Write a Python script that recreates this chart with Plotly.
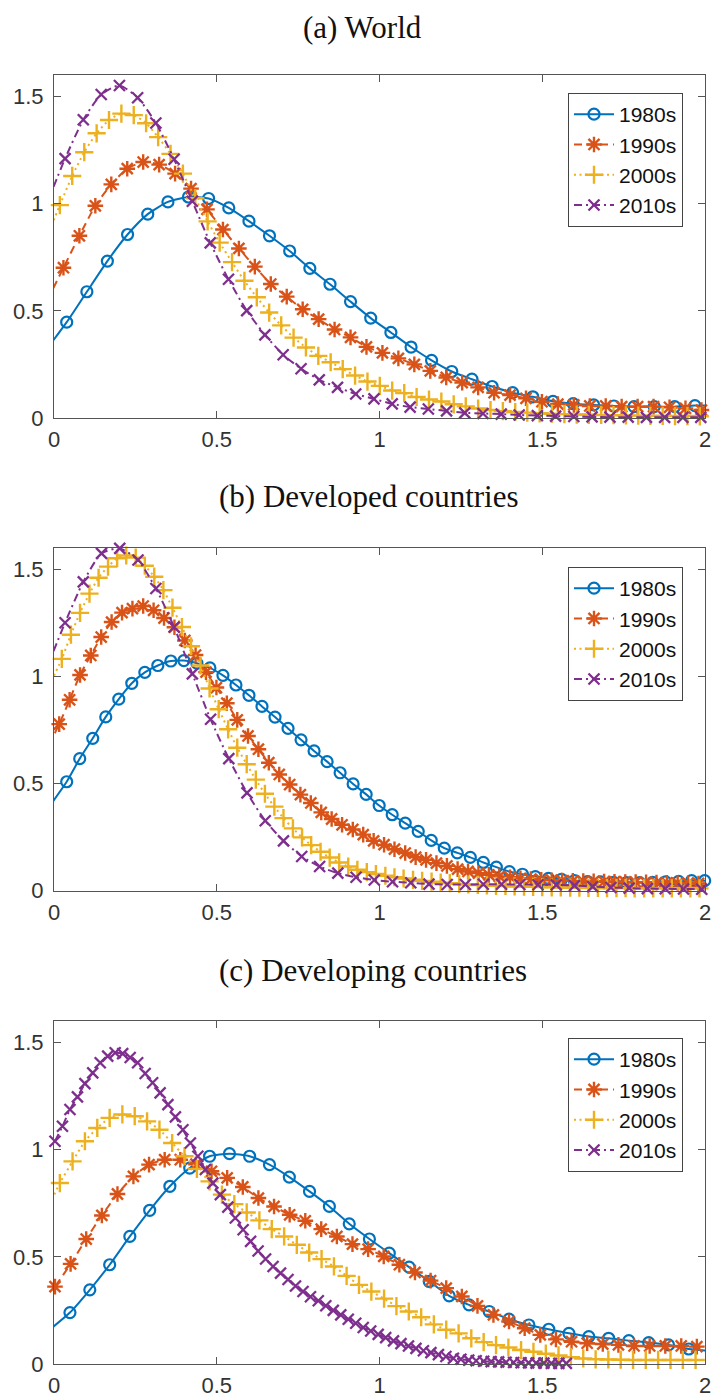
import plotly.graph_objects as go

# ---------------- data ----------------
series_names = ["1980s", "1990s", "2000s", "2010s"]
panel_titles = ["(a) World", "(b) Developed countries", "(c) Developing countries"]
x_ticks = [0, 0.5, 1, 1.5, 2]
x_tick_text = ["0", "0.5", "1", "1.5", "2"]
y_ticks = [0, 0.5, 1, 1.5]
y_tick_text = ["0", "0.5", "1", "1.5"]

# (a) World
world_1980s_x = [-0.023, 0.039, 0.101, 0.164, 0.226, 0.288, 0.350, 0.413, 0.475, 0.537, 0.599, 0.662, 0.724, 0.786, 0.848, 0.911, 0.973, 1.035, 1.097, 1.160, 1.222, 1.284, 1.346, 1.409, 1.471, 1.533, 1.595, 1.658, 1.720, 1.782, 1.844, 1.907, 1.969, 2.031]
world_1980s_y = [0.32, 0.447, 0.589, 0.732, 0.856, 0.951, 1.008, 1.031, 1.024, 0.980, 0.918, 0.850, 0.779, 0.698, 0.624, 0.543, 0.466, 0.399, 0.331, 0.269, 0.217, 0.181, 0.147, 0.118, 0.099, 0.078, 0.067, 0.061, 0.056, 0.053, 0.053, 0.053, 0.058, 0.058]
world_1990s_x = [-0.020, 0.029, 0.078, 0.127, 0.176, 0.225, 0.274, 0.323, 0.372, 0.421, 0.470, 0.519, 0.568, 0.617, 0.666, 0.715, 0.764, 0.813, 0.862, 0.911, 0.960, 1.009, 1.058, 1.107, 1.156, 1.205, 1.254, 1.303, 1.352, 1.401, 1.450, 1.499, 1.548, 1.597, 1.646, 1.695, 1.744, 1.793, 1.842, 1.891, 1.940, 1.989, 2.038]
world_1990s_y = [0.55, 0.701, 0.850, 0.990, 1.090, 1.163, 1.194, 1.182, 1.140, 1.070, 0.973, 0.879, 0.791, 0.706, 0.625, 0.566, 0.507, 0.461, 0.413, 0.376, 0.332, 0.304, 0.278, 0.250, 0.220, 0.189, 0.165, 0.143, 0.118, 0.107, 0.092, 0.076, 0.065, 0.061, 0.056, 0.056, 0.053, 0.053, 0.053, 0.050, 0.045, 0.037, 0.033]
world_2000s_x = [-0.020, 0.018, 0.056, 0.093, 0.131, 0.169, 0.207, 0.245, 0.283, 0.320, 0.358, 0.396, 0.434, 0.472, 0.509, 0.547, 0.585, 0.623, 0.661, 0.698, 0.736, 0.774, 0.812, 0.850, 0.887, 0.925, 0.963, 1.001, 1.039, 1.076, 1.114, 1.152, 1.190, 1.228, 1.265, 1.303, 1.341, 1.379, 1.417, 1.454, 1.492, 1.530, 1.568, 1.606, 1.643, 1.681, 1.719, 1.757, 1.795, 1.832, 1.870, 1.908, 1.946, 1.984, 2.021]
world_2000s_y = [0.85, 0.993, 1.129, 1.240, 1.328, 1.390, 1.420, 1.413, 1.375, 1.310, 1.232, 1.140, 1.025, 0.917, 0.818, 0.727, 0.640, 0.563, 0.492, 0.432, 0.375, 0.329, 0.290, 0.260, 0.228, 0.198, 0.170, 0.150, 0.128, 0.116, 0.098, 0.086, 0.077, 0.064, 0.054, 0.044, 0.037, 0.032, 0.028, 0.025, 0.022, 0.020, 0.018, 0.016, 0.015, 0.014, 0.013, 0.012, 0.011, 0.010, 0.010, 0.009, 0.009, 0.008, 0.008]
world_2010s_x = [-0.022, 0.034, 0.090, 0.145, 0.201, 0.257, 0.313, 0.369, 0.425, 0.480, 0.536, 0.592, 0.648, 0.704, 0.759, 0.815, 0.871, 0.927, 0.983, 1.039, 1.094, 1.150, 1.206, 1.262, 1.318, 1.374, 1.429, 1.485, 1.541, 1.597, 1.653, 1.708, 1.764, 1.820, 1.876, 1.932, 1.987, 2.043]
world_2010s_y = [1.00, 1.210, 1.391, 1.509, 1.551, 1.494, 1.376, 1.207, 1.011, 0.817, 0.647, 0.501, 0.388, 0.295, 0.230, 0.178, 0.143, 0.112, 0.089, 0.066, 0.051, 0.042, 0.033, 0.024, 0.021, 0.018, 0.014, 0.011, 0.009, 0.007, 0.005, 0.004, 0.004, 0.003, 0.003, 0.003, 0.003, 0.003]

# (b) Developed countries
developed_1980s_x = [-0.030, 0.039, 0.079, 0.119, 0.159, 0.199, 0.239, 0.279, 0.319, 0.359, 0.399, 0.439, 0.479, 0.519, 0.559, 0.599, 0.639, 0.679, 0.719, 0.759, 0.799, 0.839, 0.879, 0.919, 0.959, 0.999, 1.039, 1.079, 1.119, 1.159, 1.199, 1.239, 1.279, 1.319, 1.359, 1.399, 1.439, 1.479, 1.519, 1.559, 1.599, 1.639, 1.679, 1.719, 1.759, 1.799, 1.839, 1.879, 1.919, 1.959, 1.999, 2.039]
developed_1980s_y = [0.36, 0.508, 0.616, 0.711, 0.811, 0.894, 0.968, 1.019, 1.051, 1.072, 1.074, 1.062, 1.040, 1.005, 0.960, 0.912, 0.860, 0.810, 0.757, 0.704, 0.652, 0.602, 0.550, 0.498, 0.449, 0.397, 0.354, 0.315, 0.276, 0.234, 0.198, 0.176, 0.155, 0.131, 0.109, 0.088, 0.076, 0.065, 0.057, 0.052, 0.046, 0.042, 0.040, 0.038, 0.037, 0.037, 0.038, 0.040, 0.043, 0.046, 0.046, 0.046]
developed_1990s_x = [-0.016, 0.016, 0.048, 0.080, 0.113, 0.145, 0.177, 0.209, 0.241, 0.274, 0.306, 0.338, 0.370, 0.402, 0.435, 0.467, 0.499, 0.531, 0.563, 0.596, 0.628, 0.660, 0.692, 0.724, 0.757, 0.789, 0.821, 0.853, 0.885, 0.918, 0.950, 0.982, 1.014, 1.046, 1.079, 1.111, 1.143, 1.175, 1.207, 1.240, 1.272, 1.304, 1.336, 1.368, 1.401, 1.433, 1.465, 1.497, 1.529, 1.561, 1.594, 1.626, 1.658, 1.690, 1.722, 1.755, 1.787, 1.819, 1.851, 1.883, 1.916, 1.948, 1.980, 2.012]
developed_1990s_y = [0.68, 0.777, 0.891, 1.007, 1.098, 1.184, 1.254, 1.298, 1.317, 1.329, 1.309, 1.273, 1.230, 1.168, 1.100, 1.020, 0.948, 0.875, 0.797, 0.722, 0.660, 0.597, 0.542, 0.495, 0.448, 0.409, 0.365, 0.334, 0.307, 0.285, 0.261, 0.232, 0.214, 0.193, 0.175, 0.156, 0.143, 0.128, 0.115, 0.100, 0.089, 0.081, 0.073, 0.066, 0.062, 0.057, 0.053, 0.050, 0.048, 0.046, 0.045, 0.044, 0.043, 0.042, 0.041, 0.040, 0.039, 0.038, 0.037, 0.036, 0.035, 0.034, 0.033, 0.032]
developed_2000s_x = [-0.030, 0.024, 0.052, 0.080, 0.109, 0.137, 0.166, 0.194, 0.222, 0.251, 0.279, 0.308, 0.336, 0.364, 0.393, 0.421, 0.450, 0.478, 0.506, 0.535, 0.563, 0.592, 0.620, 0.648, 0.677, 0.705, 0.734, 0.762, 0.790, 0.819, 0.847, 0.876, 0.904, 0.932, 0.961, 0.989, 1.018, 1.046, 1.074, 1.103, 1.131, 1.160, 1.188, 1.216, 1.245, 1.273, 1.302, 1.330, 1.358, 1.387, 1.415, 1.444, 1.472, 1.500, 1.529, 1.557, 1.586, 1.614, 1.642, 1.671, 1.699, 1.728, 1.756, 1.784, 1.813, 1.841, 1.870, 1.898, 1.926, 1.955, 1.983, 2.011]
developed_2000s_y = [0.91, 1.082, 1.195, 1.297, 1.387, 1.461, 1.513, 1.552, 1.565, 1.555, 1.517, 1.466, 1.403, 1.321, 1.231, 1.141, 1.051, 0.944, 0.847, 0.753, 0.667, 0.590, 0.518, 0.452, 0.392, 0.338, 0.290, 0.248, 0.212, 0.181, 0.154, 0.131, 0.112, 0.097, 0.086, 0.077, 0.069, 0.062, 0.056, 0.050, 0.045, 0.041, 0.037, 0.034, 0.031, 0.028, 0.026, 0.024, 0.022, 0.021, 0.019, 0.018, 0.017, 0.016, 0.015, 0.014, 0.013, 0.013, 0.012, 0.012, 0.011, 0.011, 0.011, 0.010, 0.010, 0.010, 0.010, 0.010, 0.010, 0.010, 0.010, 0.010]
developed_2010s_x = [-0.022, 0.034, 0.090, 0.146, 0.202, 0.258, 0.313, 0.369, 0.425, 0.481, 0.537, 0.593, 0.649, 0.705, 0.761, 0.816, 0.872, 0.928, 0.984, 1.040, 1.096, 1.152, 1.208, 1.264, 1.319, 1.375, 1.431, 1.487, 1.543, 1.599, 1.655, 1.711, 1.767, 1.823, 1.878, 1.934, 1.990, 2.046]
developed_2010s_y = [1.04, 1.251, 1.442, 1.575, 1.598, 1.544, 1.411, 1.231, 1.012, 0.800, 0.616, 0.456, 0.326, 0.232, 0.159, 0.112, 0.081, 0.062, 0.049, 0.041, 0.036, 0.030, 0.028, 0.028, 0.029, 0.029, 0.028, 0.027, 0.026, 0.023, 0.018, 0.014, 0.011, 0.009, 0.008, 0.007, 0.006, 0.006]

# (c) Developing countries
developing_1980s_x = [-0.030, 0.049, 0.110, 0.171, 0.233, 0.294, 0.356, 0.417, 0.478, 0.539, 0.601, 0.662, 0.723, 0.785, 0.846, 0.907, 0.969, 1.030, 1.091, 1.153, 1.214, 1.275, 1.337, 1.398, 1.459, 1.520, 1.582, 1.643, 1.704, 1.766, 1.827, 1.888, 1.950, 2.011]
developing_1980s_y = [0.14, 0.240, 0.346, 0.463, 0.595, 0.717, 0.829, 0.914, 0.969, 0.981, 0.969, 0.930, 0.872, 0.805, 0.735, 0.654, 0.583, 0.517, 0.452, 0.385, 0.318, 0.276, 0.245, 0.209, 0.182, 0.162, 0.143, 0.128, 0.120, 0.109, 0.100, 0.089, 0.070, 0.062]
developing_1990s_x = [-0.045, 0.003, 0.051, 0.099, 0.147, 0.195, 0.244, 0.292, 0.340, 0.388, 0.436, 0.484, 0.532, 0.580, 0.628, 0.676, 0.724, 0.772, 0.821, 0.869, 0.917, 0.965, 1.013, 1.061, 1.109, 1.157, 1.205, 1.253, 1.301, 1.350, 1.398, 1.446, 1.494, 1.542, 1.590, 1.638, 1.686, 1.734, 1.782, 1.830, 1.878, 1.927, 1.975, 2.023]
developing_1990s_y = [0.27, 0.361, 0.467, 0.583, 0.693, 0.793, 0.875, 0.930, 0.953, 0.953, 0.932, 0.899, 0.868, 0.826, 0.774, 0.735, 0.696, 0.668, 0.629, 0.595, 0.559, 0.536, 0.502, 0.463, 0.427, 0.389, 0.354, 0.315, 0.271, 0.229, 0.198, 0.167, 0.136, 0.115, 0.104, 0.097, 0.093, 0.089, 0.084, 0.084, 0.084, 0.084, 0.081, 0.078]
developing_2000s_x = [-0.020, 0.018, 0.057, 0.095, 0.133, 0.171, 0.210, 0.248, 0.286, 0.324, 0.363, 0.401, 0.439, 0.478, 0.516, 0.554, 0.592, 0.631, 0.669, 0.707, 0.746, 0.784, 0.822, 0.860, 0.899, 0.937, 0.975, 1.014, 1.052, 1.090, 1.128, 1.167, 1.205, 1.243, 1.282, 1.320, 1.358, 1.396, 1.435, 1.473, 1.511, 1.550, 1.588, 1.626, 1.664, 1.703, 1.741, 1.779, 1.818, 1.856, 1.894, 1.932, 1.971, 2.009]
developing_2000s_y = [0.72, 0.844, 0.945, 1.039, 1.101, 1.148, 1.164, 1.156, 1.132, 1.093, 1.031, 0.969, 0.910, 0.852, 0.790, 0.746, 0.707, 0.670, 0.629, 0.595, 0.556, 0.520, 0.489, 0.455, 0.411, 0.369, 0.338, 0.305, 0.270, 0.245, 0.218, 0.185, 0.160, 0.143, 0.120, 0.102, 0.088, 0.077, 0.065, 0.057, 0.048, 0.040, 0.032, 0.026, 0.022, 0.021, 0.020, 0.019, 0.019, 0.019, 0.019, 0.019, 0.019, 0.019]
developing_2010s_x = [0.003, 0.026, 0.049, 0.072, 0.095, 0.119, 0.142, 0.165, 0.188, 0.211, 0.234, 0.257, 0.280, 0.303, 0.326, 0.350, 0.373, 0.396, 0.419, 0.442, 0.465, 0.488, 0.511, 0.534, 0.557, 0.581, 0.604, 0.627, 0.650, 0.673, 0.696, 0.719, 0.742, 0.765, 0.788, 0.812, 0.835, 0.858, 0.881, 0.904, 0.927, 0.950, 0.973, 0.996, 1.019, 1.043, 1.066, 1.089, 1.112, 1.135, 1.158, 1.181, 1.204, 1.227, 1.250, 1.274, 1.297, 1.320, 1.343, 1.366, 1.389, 1.412, 1.435, 1.458, 1.481, 1.505, 1.528, 1.551, 1.574]
developing_2010s_y = [1.039, 1.109, 1.187, 1.246, 1.308, 1.358, 1.405, 1.436, 1.452, 1.448, 1.430, 1.405, 1.355, 1.312, 1.265, 1.210, 1.153, 1.093, 1.031, 0.969, 0.907, 0.844, 0.790, 0.732, 0.681, 0.626, 0.572, 0.527, 0.490, 0.455, 0.424, 0.394, 0.364, 0.338, 0.314, 0.295, 0.272, 0.250, 0.229, 0.209, 0.190, 0.170, 0.154, 0.138, 0.123, 0.108, 0.095, 0.084, 0.073, 0.062, 0.053, 0.044, 0.035, 0.027, 0.022, 0.018, 0.015, 0.013, 0.011, 0.010, 0.008, 0.007, 0.006, 0.005, 0.004, 0.004, 0.003, 0.003, 0.003]

panels = [
    [(world_1980s_x, world_1980s_y), (world_1990s_x, world_1990s_y),
     (world_2000s_x, world_2000s_y), (world_2010s_x, world_2010s_y)],
    [(developed_1980s_x, developed_1980s_y), (developed_1990s_x, developed_1990s_y),
     (developed_2000s_x, developed_2000s_y), (developed_2010s_x, developed_2010s_y)],
    [(developing_1980s_x, developing_1980s_y), (developing_1990s_x, developing_1990s_y),
     (developing_2000s_x, developing_2000s_y), (developing_2010s_x, developing_2010s_y)],
]

# ---------------- styling ----------------
colors = ["#0072BD", "#D95319", "#EDB120", "#7E2F8E"]
dashes = ["solid", "8px,5px", "2px,3.5px", "8px,4px,2px,4px"]
symbols = ["circle-open", "asterisk-open", "cross-thin-open", "x-thin-open"]
msizes = [11, 13, 13, 11]
mwidths = [2.2, 2.4, 2.4, 2.3]

W, H = 713, 1400
AX_LEFT, AX_RIGHT, AX_TOP, AX_BOTTOM = 54, 705, 75, 1364
ML, MT = AX_LEFT, AX_TOP
MR, MB = W - AX_RIGHT, H - AX_BOTTOM
plot_h = AX_BOTTOM - AX_TOP
plot_w = AX_RIGHT - AX_LEFT


def py(p):
    return (AX_BOTTOM - p) / plot_h


def px(p):
    return (p - AX_LEFT) / plot_w


# pixel boxes (top, bottom) of each axes
boxes = [(75, 418), (548, 890.5), (1021, 1364)]
title_py = [27, 496, 970]
title_px = [362, 369, 373]
legend_top_px = [93, 567, 1038]

fig = go.Figure()
tick_font = dict(family="Liberation Sans, Arial, sans-serif", size=22, color="#333333")
legend_names = ["legend", "legend2", "legend3"]

for pi, series in enumerate(panels):
    xa = "x" if pi == 0 else f"x{pi + 1}"
    ya = "y" if pi == 0 else f"y{pi + 1}"
    for si, (xs, ys) in enumerate(series):
        fig.add_trace(go.Scatter(
            x=xs, y=ys, xaxis=xa, yaxis=ya,
            mode="lines+markers", name=series_names[si],
            line=dict(color=colors[si], width=2, dash=dashes[si], shape="spline", smoothing=0.6),
            marker=dict(symbol=symbols[si], size=msizes[si], color=colors[si],
                        line=dict(color=colors[si], width=mwidths[si])),
            cliponaxis=False,
            legend=legend_names[pi],
        ))

layout = dict(
    width=W, height=H,
    margin=dict(l=ML, r=MR, t=MT, b=MB, autoexpand=False),
    plot_bgcolor="white", paper_bgcolor="white",
    showlegend=True,
)

for pi in range(3):
    sfx = "" if pi == 0 else str(pi + 1)
    top, bot = boxes[pi]
    layout["xaxis" + sfx] = dict(
        domain=[0, 1], range=[0, 2], anchor="y" + sfx, automargin=False,
        tickvals=x_ticks, ticktext=x_tick_text,
        ticks="inside", ticklen=7, tickcolor="#555555", tickwidth=1,
        showline=True, linecolor="#555555", linewidth=1, mirror="ticks",
        showgrid=False, zeroline=False, tickfont=tick_font,
        ticklabelstandoff=2, ticklabeloverflow="allow",
    )
    layout["yaxis" + sfx] = dict(
        domain=[py(bot), py(top)], range=[0, 1.6], anchor="x" + sfx, automargin=False,
        tickvals=y_ticks, ticktext=y_tick_text,
        ticks="inside", ticklen=7, tickcolor="#555555", tickwidth=1,
        showline=True, linecolor="#555555", linewidth=1, mirror="ticks",
        showgrid=False, zeroline=False, tickfont=tick_font,
        ticklabelstandoff=5, ticklabeloverflow="allow",
    )
    layout[legend_names[pi]] = dict(
        x=px(568), y=py(legend_top_px[pi]),
        xanchor="left", yanchor="top",
        bgcolor="white", bordercolor="#444444", borderwidth=1,
        font=dict(family="Liberation Sans, Arial, sans-serif", size=21, color="#111111"),
        itemwidth=40,
    )

fig.update_layout(**layout)

for pi in range(3):
    fig.add_annotation(
        text=panel_titles[pi], xref="paper", yref="paper",
        x=px(title_px[pi]), y=py(title_py[pi]), xanchor="center", yanchor="middle",
        showarrow=False,
        font=dict(family="Liberation Serif, Times New Roman, serif", size=31, color="#111111"),
    )

# remove the default page margin so the figure sits at the window origin
fig.write_html(
    "out.html",
    config={"displayModeBar": False},
    post_script="document.body.style.margin='0px'; document.body.style.overflow='hidden';",
)
